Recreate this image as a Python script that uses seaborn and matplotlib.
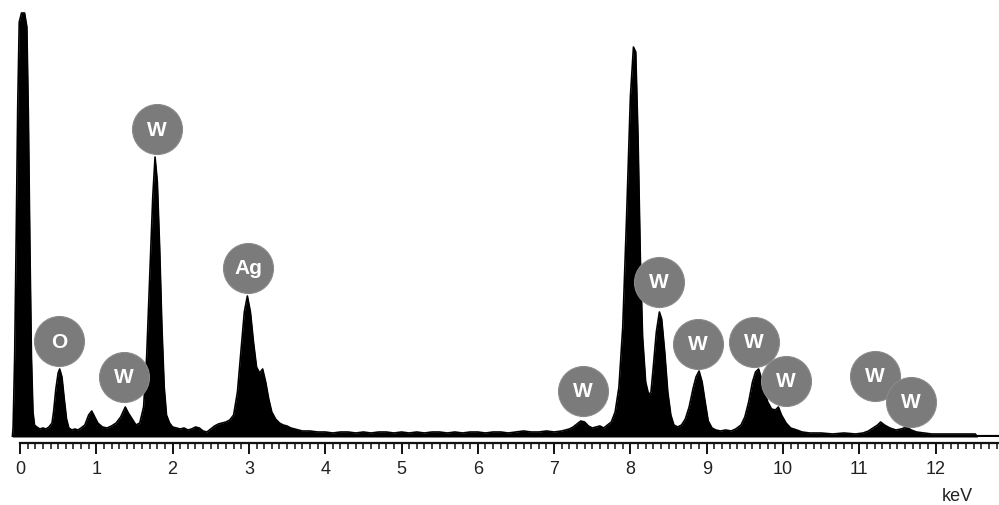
import numpy as np
import pandas as pd
import matplotlib.pyplot as plt
import seaborn as sns

# EDS spectrum (keV, counts in arbitrary units)
energy = [-0.10, -0.09, -0.07, -0.05, -0.03, -0.01, 0.02, 0.06, 0.09, 0.11, 0.13, 0.15, 0.17, 0.19,
          0.22, 0.26, 0.30, 0.34, 0.38, 0.42, 0.44, 0.47, 0.50, 0.52, 0.55, 0.58, 0.61, 0.64, 0.68,
          0.72, 0.76, 0.80, 0.85, 0.90, 0.94, 0.98, 1.02, 1.08, 1.14, 1.20, 1.26, 1.32, 1.38, 1.42,
          1.47, 1.52, 1.57, 1.62, 1.66, 1.70, 1.74, 1.77, 1.80, 1.83, 1.86, 1.89, 1.92, 1.96, 2.00,
          2.05, 2.10, 2.15, 2.20, 2.25, 2.30, 2.35, 2.40, 2.45, 2.50, 2.55, 2.60, 2.65, 2.70, 2.75,
          2.80, 2.85, 2.90, 2.94, 2.98, 3.02, 3.06, 3.10, 3.14, 3.18, 3.22, 3.26, 3.30, 3.35, 3.40,
          3.45, 3.50, 3.55, 3.60, 3.65, 3.70, 3.80, 3.90, 4.00, 4.10, 4.20, 4.30, 4.40, 4.50, 4.60,
          4.70, 4.80, 4.90, 5.00, 5.10, 5.20, 5.30, 5.40, 5.50, 5.60, 5.70, 5.80, 5.90, 6.00, 6.10,
          6.20, 6.30, 6.40, 6.50, 6.60, 6.70, 6.80, 6.90, 7.00, 7.10, 7.20, 7.25, 7.30, 7.35, 7.40,
          7.45, 7.50, 7.55, 7.60, 7.65, 7.70, 7.75, 7.80, 7.85, 7.90, 7.95, 8.00, 8.04, 8.07, 8.10,
          8.13, 8.16, 8.20, 8.24, 8.27, 8.30, 8.34, 8.38, 8.41, 8.45, 8.49, 8.53, 8.57, 8.62, 8.67,
          8.72, 8.77, 8.82, 8.86, 8.90, 8.94, 8.98, 9.02, 9.07, 9.12, 9.18, 9.25, 9.32, 9.38, 9.45,
          9.50, 9.55, 9.60, 9.64, 9.68, 9.72, 9.76, 9.80, 9.85, 9.90, 9.94, 9.98, 10.04, 10.10,
          10.18, 10.25, 10.35, 10.50, 10.65, 10.80, 10.95, 11.05, 11.12, 11.18, 11.24, 11.28, 11.33,
          11.40, 11.48, 11.55, 11.62, 11.68, 11.75, 11.85, 11.95, 12.10, 12.25, 12.40, 12.52, 12.55]
counts = [0, 10, 80, 200, 330, 415, 424, 424, 410, 320, 190, 80, 25, 12,
          10, 8, 9, 8, 10, 14, 25, 48, 64, 68, 60, 38, 18, 9, 7,
          8, 7, 9, 12, 22, 26, 20, 14, 10, 9, 11, 14, 20, 30, 24,
          18, 12, 14, 30, 80, 160, 240, 280, 255, 190, 110, 50, 22, 14, 10,
          9, 8, 9, 7, 8, 10, 9, 6, 5, 8, 11, 13, 14, 15, 17,
          22, 45, 90, 125, 141, 125, 95, 70, 64, 68, 55, 38, 25, 18, 14,
          12, 11, 9, 8, 7, 6, 6, 5, 5, 4, 5, 5, 4, 5, 4,
          5, 5, 4, 5, 4, 5, 4, 5, 5, 4, 5, 4, 5, 5, 4,
          5, 5, 4, 5, 6, 5, 5, 6, 5, 6, 8, 10, 13, 16, 15,
          11, 9, 10, 11, 9, 12, 15, 25, 50, 110, 220, 340, 390, 385, 300,
          180, 100, 55, 42, 45, 70, 105, 125, 118, 85, 45, 22, 12, 10, 12,
          18, 30, 48, 60, 66, 55, 35, 16, 9, 7, 6, 7, 6, 8, 12,
          20, 35, 55, 65, 68, 58, 45, 35, 28, 27, 30, 22, 14, 9,
          7, 5, 4, 4, 3, 4, 3, 4, 6, 9, 12, 15, 12,
          9, 7, 8, 10, 7, 5, 4, 3, 3, 3, 3, 3, 0]

# element labels and where their markers sit
label_text = ['O', 'W', 'W', 'Ag', 'W', 'W', 'W', 'W', 'W', 'W', 'W']
label_energy = [0.511, 1.363, 1.796, 2.988, 7.379, 8.375, 8.886, 9.620, 10.039, 11.206, 11.678]
label_height = [96, 60, 308, 169, 46, 155, 93, 95, 56, 61, 35]

spec = pd.DataFrame({'keV': energy, 'counts': counts})
labels = pd.DataFrame({'keV': label_energy, 'counts': label_height, 'el': label_text})

sns.set_style('white')
plt.rcParams['font.family'] = ['Liberation Sans', 'DejaVu Sans']

fig = plt.figure(figsize=(9.99, 5.06), dpi=100)
ax = fig.add_axes([0, 68 / 506, 1, 438 / 506])

ax.fill_between(spec['keV'], 0, spec['counts'], color='black', lw=0)
sns.lineplot(data=spec, x='keV', y='counts', color='black', lw=1.2, ax=ax)
ax.hlines(0, -0.1, 12.83, color='black', lw=3)

sns.scatterplot(data=labels, x='keV', y='counts', s=1296, color='#7b7b7b',
                edgecolor='#8a8a8a', linewidth=0.8, ax=ax, zorder=5)
for _, r in labels.iterrows():
    ax.text(r['keV'], r['counts'], r['el'], color='white', fontsize=15, fontweight='bold',
            ha='center', va='center', zorder=6)

ax.set_xlim(-20 / 76.3, 979 / 76.3)
ax.set_ylim(0, 438)
ax.set_xlabel('')
ax.set_ylabel('')
ax.set_yticks([])
ax.set_xticks(range(0, 13))
ax.set_xticks(np.arange(0.1, 12.85, 0.1), minor=True)
for s in ['top', 'left', 'right']:
    ax.spines[s].set_visible(False)
ax.spines['bottom'].set_position(('outward', 4.5))
ax.spines['bottom'].set_bounds(0, 12.83)
ax.spines['bottom'].set_linewidth(1.6)
ax.spines['bottom'].set_color('#111111')
ax.tick_params(axis='x', which='major', bottom=True, length=8, width=1.4, color='#111111',
               labelsize=13, labelcolor='#222222', pad=4)
ax.tick_params(axis='x', which='minor', bottom=True, length=4.5, width=1.1, color='#111111')

fig.text(957 / 999, 1 - 497 / 506, 'keV', ha='center', va='center', fontsize=13, color='#222222')

fig.savefig('out.png', dpi=100)
